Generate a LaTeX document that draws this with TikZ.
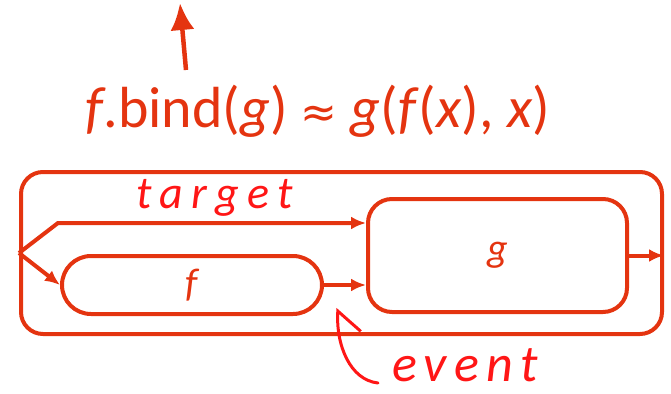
\documentclass[tikz,border=0pt]{standalone}
\usepackage{fontspec}
\setmainfont{Carlito}
\newfontfamily\symfnt{DejaVu Sans}
\usetikzlibrary{positioning,arrows.meta}
\definecolor{ink}{RGB}{228,52,16}
\definecolor{pen}{RGB}{255,22,22}

\begin{document}
\begin{tikzpicture}[x=1pt,y=-1pt,
    frame/.style={draw=ink,line width=4pt,rounded corners=22pt,inner sep=0pt},
    blk/.style={draw=ink,line width=4pt,inner sep=0pt,text=ink,
                font=\fontsize{40}{40}\selectfont\itshape},
    arr/.style={draw=ink,line width=4pt,-{Latex[length=15pt,width=13pt]}},
    hand/.style={text=pen,inner sep=0pt},
  ]
    \useasboundingbox (0,0) rectangle (671,393);
    % boxes
    \node[frame,minimum width=641pt,minimum height=162pt] (outer) at (341.5,253) {};
    \node[blk,rounded corners=24pt,minimum width=259pt,minimum height=113pt] (g) at (497.5,255.5) {g};
    \node[blk,rounded corners=29pt,minimum width=260pt,minimum height=58pt] (f) at (192,285) {f};
    % formula and the arrow above it
    \node[text=ink,anchor=base,inner sep=0pt,font=\fontsize{58}{60}\selectfont] (bind) at (318,127)
      {\textit{f}.bind(\textit{g}) {\symfnt\fontsize{44}{44}\selectfont ≈} \textit{g}(\textit{f}(\textit{x}), \textit{x})};
    \coordinate (tail) at (186,70);
    \coordinate (up) at (180,3);
    \draw[draw=ink,line width=4.5pt,-{Latex[length=27pt,width=24pt]}] (tail) -- (up);
    % wiring
    \coordinate (split) at (outer.west);
    \coordinate (bend) at (58,223);
    \draw[arr] (split) -- (bend) -- (g.west |- bend);
    \draw[arr] (split) -- (f.west);
    \draw[arr] (f.east) -- (g.west |- f.east);
    \draw[arr] (g.east) -- (outer.east |- g.east);
    % handwritten notes
    \node[hand,font=\fontsize{46}{46}\selectfont\itshape\addfontfeature{LetterSpace=18}] (target) at (215,198) {target};
    \node[hand,anchor=west,font=\fontsize{52}{52}\selectfont\itshape\addfontfeature{LetterSpace=14}] (event) at (392,365) {event};
    \coordinate (tip) at (338,308);
    \draw[draw=pen,line width=3pt,line cap=round,-{Straight Barb[right,length=19pt,width=48pt]}]
      ([shift={(-14,18)}]event.west) .. controls (350,380) and (336,345) .. (tip);
  \end{tikzpicture}
\end{document}
